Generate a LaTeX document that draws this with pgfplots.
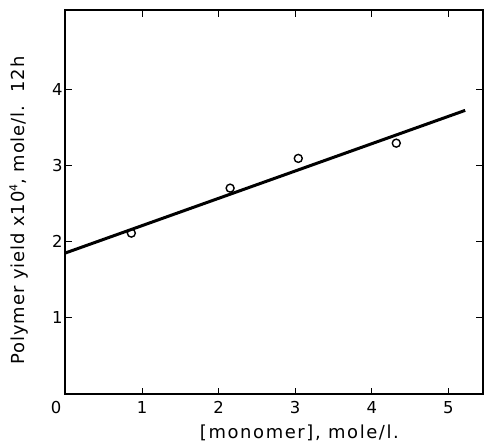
\documentclass[border=0pt]{standalone}
\usepackage{fontspec}
\setmainfont{DejaVu Sans}
\newfontfamily\xlabfont[LetterSpace=9]{DejaVu Sans}
\newfontfamily\ylabfont[LetterSpace=5]{DejaVu Sans}
\usepackage{pgfplots}
\pgfplotsset{compat=1.18}

\begin{document}
\begin{tikzpicture}
	\useasboundingbox (-65.5bp,-49bp) rectangle (419.5bp,394bp);
	\begin{axis}[
			scale only axis,
			width=417bp, height=383.5bp,
			xmin=0, xmax=5.446,
			ymin=0, ymax=5.03,
			axis line style={line width=2bp},
			tick align=inside,
			major tick length=6.5bp,
			tick style={line width=1bp, black},
			xtick={1,2,3,4,5},
			ytick={1,2,3,4},
			extra x ticks={0},
			extra x tick style={major tick length=0pt, xticklabel style={xshift=-9.5bp}},
			/pgf/number format/assume math mode=true,
			tick label style={font=\fontsize{16.5}{18}\selectfont},
			xticklabel style={yshift=-4bp},
			yticklabel style={xshift=0.5bp},
			xlabel={\xlabfont [monomer], mole/l.},
			ylabel={\ylabfont Polymer yield x10\raisebox{0.75ex}{\fontsize{11}{12}\selectfont 4}, mole/l.\ \ 12h},
			label style={font=\fontsize{18}{20}\selectfont},
			xlabel style={at={(axis description cs:0.561,-0.1004)}, anchor=center},
			ylabel style={at={(axis description cs:-0.1115,0.4785)}, anchor=center},
		]
		% fitted line
		\addplot[black, line width=3bp] coordinates {(0,1.85) (5.22,3.72)};
		% measured points
		\addplot[only marks, mark=o, mark size=4bp, mark options={line width=1.4bp, fill=white}] coordinates {
			(0.86,2.11) (2.15,2.70) (3.04,3.09) (4.32,3.29)
		};
	\end{axis}
\end{tikzpicture}
\end{document}
